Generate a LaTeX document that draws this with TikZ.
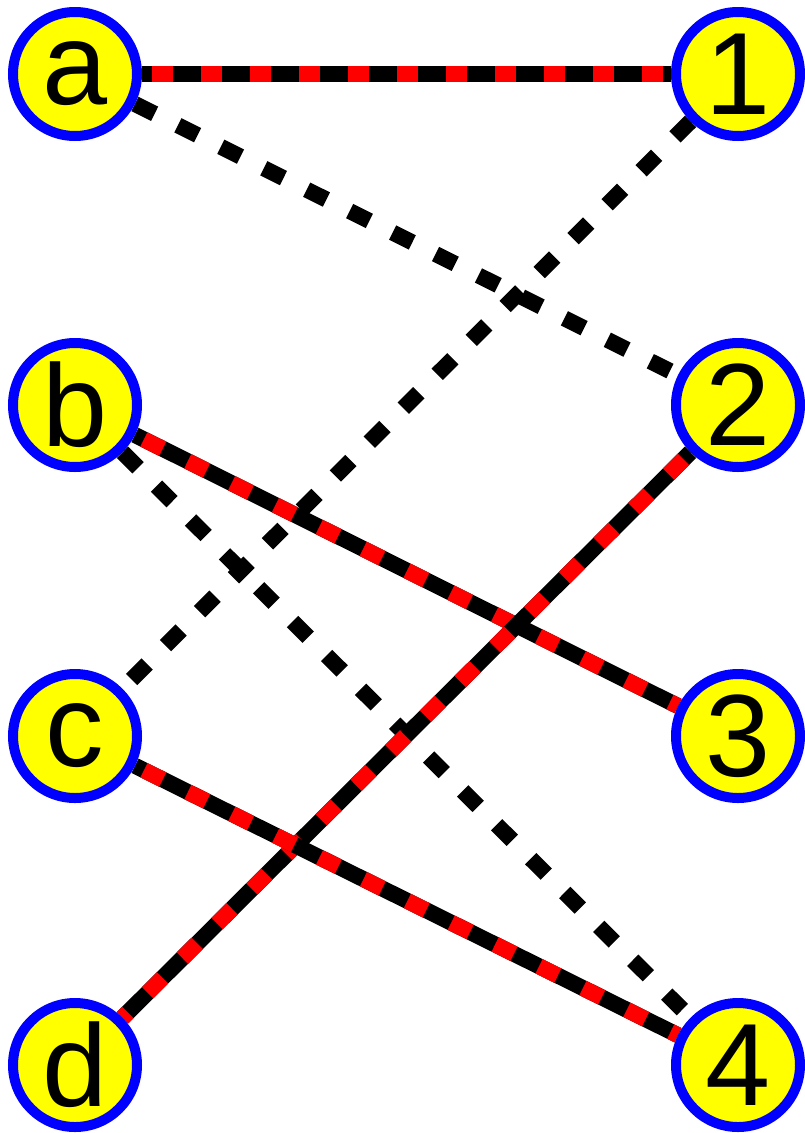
\documentclass[tikz,border=0pt]{standalone}
\usepackage{fontspec}
\setmainfont{Liberation Sans}
\usetikzlibrary{backgrounds}
\definecolor{nodeyellow}{RGB}{255,255,0}
\definecolor{nodeblue}{RGB}{0,0,255}
\definecolor{edgered}{RGB}{255,0,0}
\tikzset{
  vtx/.style={circle, draw=nodeblue, fill=nodeyellow, line width=10pt,
    minimum size=124pt, inner sep=0pt, text=black,
    font=\fontsize{117}{117}\selectfont},
  redblack/.style={draw=black, line width=16pt, line cap=butt,
    postaction={draw=edgered, line width=16pt, dash pattern=on 21pt off 28pt, dash phase=39pt}},
  blackdash/.style={draw=black, line width=16pt, line cap=butt,
    dash pattern=on 22pt off 26pt}
}
\begin{document}
\begin{tikzpicture}[x=1pt,y=-1pt]
\useasboundingbox (0,0) rectangle (804,1133);
\node[vtx] (a) at (75,74) {a};
\node[vtx] (b) at (75,405) {b};
\node[vtx] (c) at (75,736) {c};
\node[vtx] (d) at (75,1065) {d};
\node[vtx] (n1) at (738,74) {1};
\node[vtx] (n2) at (738,405) {2};
\node[vtx] (n3) at (738,736) {3};
\node[vtx] (n4) at (738,1065) {4};
\begin{scope}[on background layer]
\draw[blackdash] (a) -- (n2);
\draw[blackdash] (n1) -- (c);
\draw[blackdash] (b) -- (n4);
\draw[redblack] (a) -- (n1);
\draw[redblack] (b) -- (n3);
\draw[redblack] (n2) -- (d);
\draw[redblack] (c) -- (n4);
\end{scope}
\end{tikzpicture}
\end{document}
